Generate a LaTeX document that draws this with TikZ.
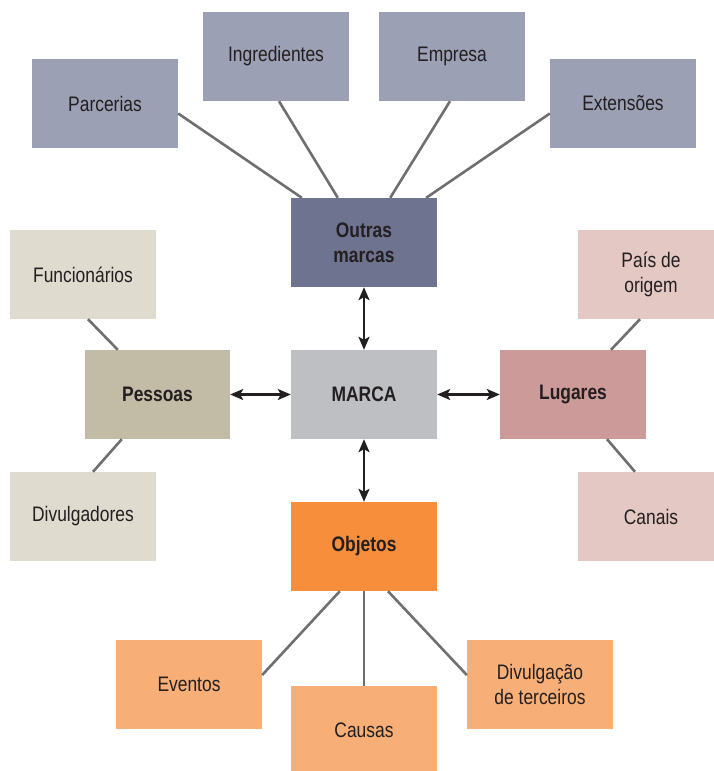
\documentclass[tikz,border=0pt]{standalone}
\usepackage{fontspec}
\setmainfont[FakeStretch=0.83]{Liberation Sans}
\usepackage{xcolor}
\usepackage{tikz}
\usetikzlibrary{arrows.meta}
\definecolor{bkink}{HTML}{231F20}
\definecolor{bkline}{HTML}{6F6F71}
\definecolor{bkoutra}{HTML}{6E7490}
\definecolor{bkoutral}{HTML}{9CA0B5}
\definecolor{bkpess}{HTML}{C2BCA6}
\definecolor{bkpessl}{HTML}{DFDBCF}
\definecolor{bkmarca}{HTML}{BEBFC3}
\definecolor{bkluga}{HTML}{CD9A9A}
\definecolor{bklugal}{HTML}{E4C8C4}
\definecolor{bkobje}{HTML}{F68E3C}
\definecolor{bkobjel}{HTML}{F8AE77}
\tikzset{
  bbox/.style={rectangle, minimum width=146pt, minimum height=89pt, inner sep=0pt,
    text=bkink, align=center, font=\fontsize{21}{25}\selectfont},
  bmain/.style={bbox, font=\fontsize{21}{25}\selectfont\bfseries},
  blink/.style={draw=bkline, line width=2.6pt},
  barrow/.style={draw=bkink, line width=2.2pt,
    {Stealth[length=13pt,width=11pt,inset=3pt]}-{Stealth[length=13pt,width=11pt,inset=3pt]}}
}
\begin{document}
\begin{tikzpicture}[x=1pt, y=-1pt]
  \useasboundingbox (0,0) rectangle (713,771);
  % centre
  \node[bmain, fill=bkmarca] (marca) at (364,394.5) {MARCA};
  % outras marcas
  \node[bmain, fill=bkoutra] (outr) at (364,242.5) {Outras\\marcas};
  \node[bbox, fill=bkoutral] (parc) at (105,103.5) {Parcerias};
  \node[bbox, fill=bkoutral] (ingr) at (276,56.5) {Ingredientes};
  \node[bbox, fill=bkoutral] (empr) at (452,56.5) {Empresa};
  \node[bbox, fill=bkoutral] (exte) at (623,103.5) {Extensões};
  \path[blink] ([yshift=-10pt]parc.east) -- ([xshift=11pt]outr.north west);
  \path[blink] ([xshift=3pt]ingr.south) -- ([xshift=47pt]outr.north west);
  \path[blink] ([xshift=-2pt]empr.south) -- ([xshift=-47pt]outr.north east);
  \path[blink] ([yshift=-10pt]exte.west) -- ([xshift=-11pt]outr.north east);
  % pessoas
  \node[bmain, fill=bkpess, minimum width=145pt] (pess) at (157.5,394.5) {Pessoas};
  \node[bbox, fill=bkpessl] (func) at (83,274.5) {Funcionários};
  \node[bbox, fill=bkpessl] (divu) at (83,516.5) {Divulgadores};
  \path[blink] ([xshift=5pt]func.south) -- ([xshift=33pt]pess.north west);
  \path[blink] ([xshift=37pt]pess.south west) -- ([xshift=10pt]divu.north);
  % lugares
  \node[bmain, fill=bkluga] (luga) at (573,394.5) {Lugares};
  \node[bbox, fill=bklugal] (pais) at (651,274.5) {País de\\origem};
  \node[bbox, fill=bklugal] (cana) at (651,516.5) {Canais};
  \path[blink] ([xshift=-11pt]pais.south) -- ([xshift=38pt]luga.north);
  \path[blink] ([xshift=34pt]luga.south) -- ([xshift=-16pt]cana.north);
  % objetos
  \node[bmain, fill=bkobje] (obje) at (364,546.5) {Objetos};
  \node[bbox, fill=bkobjel] (even) at (189,684.5) {Eventos};
  \node[bbox, fill=bkobjel] (caus) at (364,730.5) {Causas};
  \node[bbox, fill=bkobjel] (terc) at (540,684.5) {Divulgação\\de terceiros};
  \path[blink] ([xshift=49pt]obje.south west) -- ([yshift=9.5pt]even.east);
  \path[blink] (obje.south) -- (caus.north);
  \path[blink] ([xshift=24pt]obje.south) -- ([yshift=9.5pt]terc.west);
  % arrows
  \path[barrow] (pess) -- (marca);
  \path[barrow] (marca) -- (luga);
  \path[barrow] (outr) -- (marca);
  \path[barrow] (marca) -- (obje);
\end{tikzpicture}
\end{document}
